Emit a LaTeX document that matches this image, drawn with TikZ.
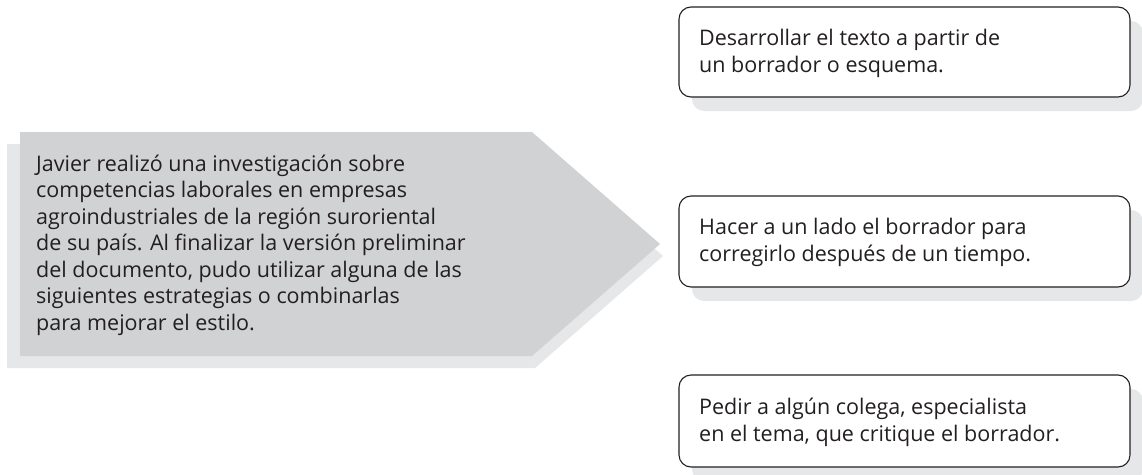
\documentclass[tikz,border=0pt]{standalone}
\usepackage{fontspec}
\setmainfont{Open Sans}
\definecolor{maingray}{HTML}{D1D2D4}
\definecolor{shadgray}{HTML}{E6E7E8}
\definecolor{ink}{HTML}{231F20}
\tikzset{
  txt/.style={anchor=base west, align=left, inner sep=0pt, text=ink,
    font=\fontsize{21.5}{26.5}\selectfont},
  boxshadow/.style={fill=shadgray, rounded corners=12pt},
  optbox/.style={draw=ink, line width=1.1pt, fill=white, rounded corners=12pt},
}
\begin{document}
\begin{tikzpicture}[x=1pt,y=-1pt]
\useasboundingbox (0,0) rectangle (1142,474);
% arrow
\fill[shadgray] (7,144) -- (535,144) -- (663,256) -- (535,368) -- (7,368) -- cycle;
\fill[maingray] (20,132) -- (532,132) -- (660,244) -- (532,356) -- (20,356) -- cycle;
\node[txt] (main) at (36,330) {Javier realizó una investigación sobre\\competencias laborales en empresas\\agroindustriales de la región suroriental\\de su país. Al finalizar la versión preliminar\\del documento, pudo utilizar alguna de las\\siguientes estrategias o combinarlas\\para mejorar el estilo.};
% boxes
\foreach \t/\b in {7/97,196/287,375/467}{
  \fill[boxshadow] (692,\t+14) rectangle (1143,\b+14);
}
\draw[optbox] (679,7) rectangle (1130,97) coordinate (b1);
\draw[optbox] (679,196) rectangle (1130,287) coordinate (b2);
\draw[optbox] (679,375) rectangle (1130,467) coordinate (b3);
\node[txt] (t1) at (699,72) {Desarrollar el texto a partir de\\un borrador o esquema.};
\node[txt] (t2) at (699,261) {Hacer a un lado el borrador para\\corregirlo después de un tiempo.};
\node[txt] (t3) at (699,441) {Pedir a algún colega, especialista\\en el tema, que critique el borrador.};
\end{tikzpicture}
\end{document}
